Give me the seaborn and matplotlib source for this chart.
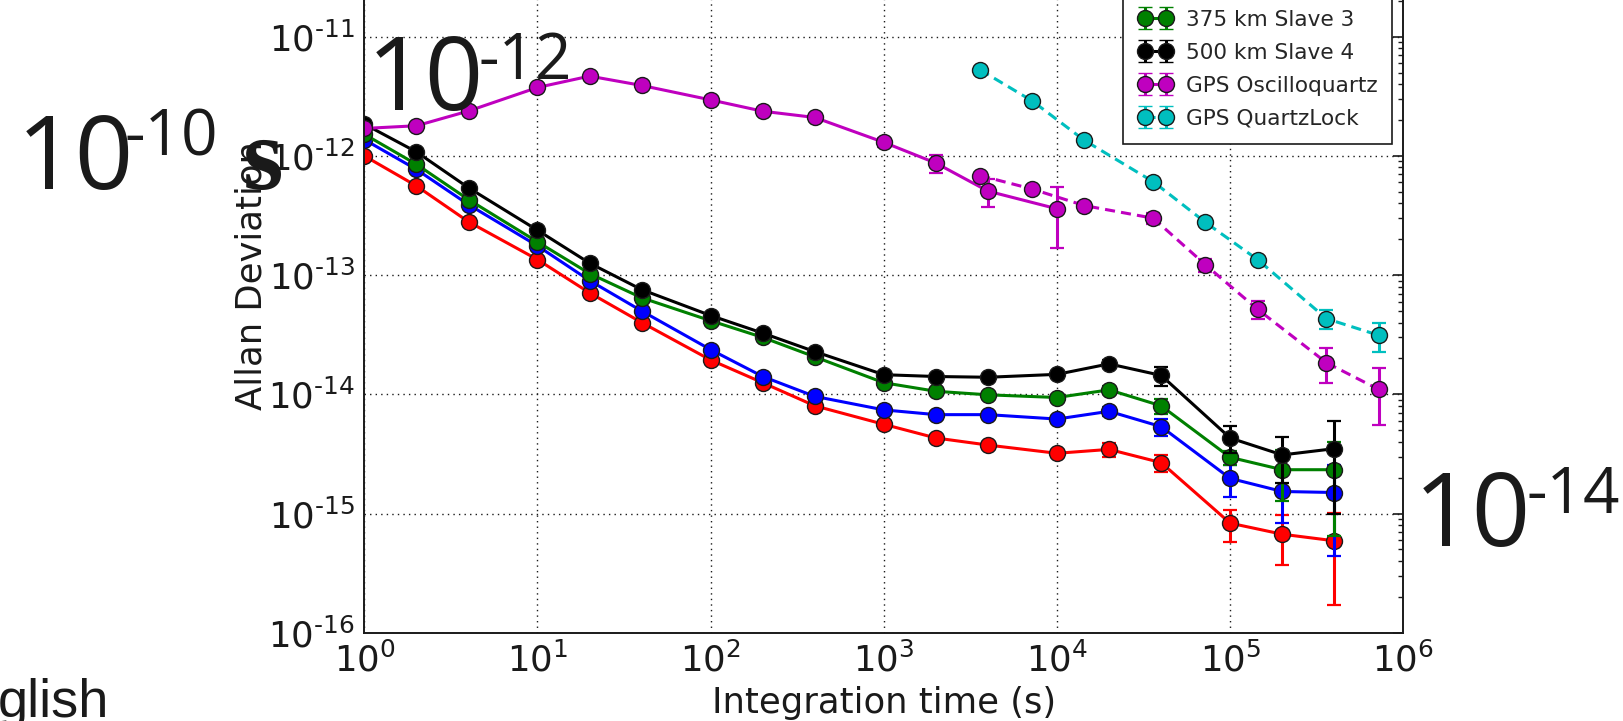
import numpy as np
import matplotlib
matplotlib.use("Agg")
import matplotlib.pyplot as plt
from matplotlib.ticker import FuncFormatter
import seaborn as sns

# averaging times (s)
tau_slave = [1, 2, 4, 10, 20, 40, 100, 200, 400, 1000, 2000, 4000,
             1e4, 2e4, 4e4, 1e5, 2e5, 4e5]
tau_osc = [1, 2, 4, 10, 20, 40, 100, 200, 400, 1000, 2000, 4000, 1e4]
tau_gps = [3600, 7200, 14400, 36000, 72000, 144000, 360000, 720000]

# Allan deviations
adev_s1 = [1.0e-12, 5.6e-13, 2.8e-13, 1.35e-13, 7.1e-14, 4.0e-14, 1.94e-14,
           1.25e-14, 8.0e-15, 5.6e-15, 4.3e-15, 3.75e-15, 3.2e-15, 3.45e-15,
           2.67e-15, 8.3e-16, 6.7e-16, 5.9e-16]
adev_s2 = [1.37e-12, 7.7e-13, 3.9e-13, 1.76e-13, 9.0e-14, 5.0e-14, 2.37e-14,
           1.41e-14, 9.6e-15, 7.4e-15, 6.75e-15, 6.75e-15, 6.2e-15, 7.2e-15,
           5.35e-15, 1.97e-15, 1.53e-15, 1.5e-15]
adev_s3 = [1.52e-12, 8.5e-13, 4.3e-13, 1.9e-13, 1.03e-13, 6.45e-14, 4.14e-14,
           3.0e-14, 2.06e-14, 1.25e-14, 1.06e-14, 9.9e-15, 9.4e-15, 1.09e-14,
           8.0e-15, 2.96e-15, 2.33e-15, 2.33e-15]
adev_s4 = [1.85e-12, 1.08e-12, 5.4e-13, 2.38e-13, 1.26e-13, 7.55e-14,
           4.58e-14, 3.26e-14, 2.28e-14, 1.46e-14, 1.41e-14, 1.39e-14,
           1.47e-14, 1.8e-14, 1.44e-14, 4.3e-15, 3.1e-15, 3.5e-15]
adev_osc = [1.7e-12, 1.79e-12, 2.38e-12, 3.75e-12, 4.67e-12, 3.9e-12,
            2.95e-12, 2.37e-12, 2.1e-12, 1.3e-12, 8.7e-13, 5.06e-13, 3.6e-13]
adev_osc_gps = [6.84e-13, 5.27e-13, 3.83e-13, 3.0e-13, 1.22e-13, 5.17e-14,
                1.84e-14, 1.1e-14]
adev_ql = [5.27e-12, 2.89e-12, 1.35e-12, 6.07e-13, 2.77e-13, 1.35e-13,
           4.31e-14, 3.13e-14]

# error bars
err_s1 = [1e-14, 5e-15, 2e-15, 1e-15, 5e-16, 3e-16, 2e-16, 1.5e-16, 1e-16,
          1e-16, 1e-16, 1e-16, 1.5e-16, 4.5e-16, 4.5e-16, 2.5e-16, 3.0e-16,
          4.2e-16]
err_s2 = [1e-14, 5e-15, 2e-15, 1e-15, 5e-16, 3e-16, 2e-16, 2e-16, 2e-16,
          2e-16, 2e-16, 2e-16, 3e-16, 6e-16, 9e-16, 6e-16, 7e-16, 1.06e-15]
err_s3 = [1e-14, 5e-15, 2e-15, 1e-15, 5e-16, 4e-16, 3e-16, 3e-16, 3e-16,
          3e-16, 3e-16, 3e-16, 4e-16, 8e-16, 1.2e-15, 4e-16, 1.05e-15,
          1.68e-15]
err_s4 = [1e-14, 5e-15, 2e-15, 1e-15, 5e-16, 4e-16, 3e-16, 3e-16, 3e-16,
          3e-16, 3e-16, 3e-16, 4e-16, 1.5e-15, 2.7e-15, 1.1e-15, 1.3e-15,
          2.5e-15]
err_osc = [3e-14, 3e-14, 4e-14, 6e-14, 8e-14, 7e-14, 6e-14, 6e-14, 7e-14,
           1.2e-13, 1.5e-13, 1.3e-13, 1.9e-13]
err_osc_gps = [4e-14, 3e-14, 3e-14, 3e-14, 1.5e-14, 9e-15, 6e-15, 5.5e-15]
err_ql = [2e-13, 1e-13, 5e-14, 2e-14, 1.5e-14, 1e-14, 8e-15, 8.5e-15]

labels = ["125 km Slave 1", "250 km Slave 2", "375 km Slave 3",
          "500 km Slave 4", "GPS Oscilloquartz", "GPS QuartzLock"]

W, H = 1624, 721
RED, BLUE, GREEN = "#ff0000", "#0000ff", "#008000"
BLACK, MAGENTA, CYAN = "#000000", "#bf00bf", "#00bfbf"

sns.set_theme(style="white")
plt.rcParams["font.family"] = ["DejaVu Sans"]
plt.rcParams["mathtext.fontset"] = "dejavusans"

fig = plt.figure(figsize=(W / 100, H / 100), dpi=100)
ax = fig.add_axes([364.3 / W, (H - 632.7) / H, 1039.0 / W, 715.2 / H])
ax.set_xscale("log")
ax.set_yscale("log")

series = [
    (tau_slave, adev_s1, err_s1, RED, "-", labels[0]),
    (tau_slave, adev_s2, err_s2, BLUE, "-", labels[1]),
    (tau_slave, adev_s3, err_s3, GREEN, "-", labels[2]),
    (tau_slave, adev_s4, err_s4, BLACK, "-", labels[3]),
    (tau_osc, adev_osc, err_osc, MAGENTA, "-", labels[4]),
    (tau_gps, adev_ql, err_ql, CYAN, "--", labels[5]),
    (tau_gps, adev_osc_gps, err_osc_gps, MAGENTA, "--", None),
]

dash = (0, (3.3, 2.0))
handles = []
for tau, adev, err, col, ls, lab in series:
    style = dash if ls == "--" else "-"
    ax.errorbar(tau, adev, yerr=err, fmt="none", ecolor=col,
                elinewidth=2.2, capsize=5, capthick=1.6)
    sns.lineplot(x=tau, y=adev, color=col, linestyle=style, linewidth=2.2,
                 marker="o", markersize=11.5, markeredgecolor="k",
                 markeredgewidth=1.0, ax=ax, legend=False)
    if lab is not None:
        h = ax.errorbar([np.nan], [np.nan], yerr=[np.nan], fmt="o",
                        linestyle=style, color=col, linewidth=2.2,
                        markersize=11.5, markeredgecolor="k",
                        markeredgewidth=1.0, ecolor=col, elinewidth=2.2,
                        capsize=5, capthick=1.6, label=lab)
        handles.append(h)


def decade(v, pos):
    e = int(round(np.log10(v)))
    if e < 0:
        # short hyphen in the exponent, as in the original labels
        return "$\\mathdefault{10^{\u2010%d}}$" % (-e)
    return "$\\mathdefault{10^{%d}}$" % e


ax.set_xlim(1, 1e6)
ax.set_ylim(1e-16, 1e-10)
ax.set_yticks([1e-16, 1e-15, 1e-14, 1e-13, 1e-12, 1e-11])
ax.xaxis.set_major_formatter(FuncFormatter(decade))
ax.yaxis.set_major_formatter(FuncFormatter(decade))
ax.grid(True, which="major", color="k", linestyle=(0, (1, 3)),
        linewidth=1.0)
for s in ax.spines.values():
    s.set_color("k")
    s.set_linewidth(1.4)
ax.tick_params(which="both", direction="in", top=True, right=True,
               colors="k", labelsize=25.5)
ax.tick_params(which="major", length=7, width=1.2, pad=7)
ax.tick_params(which="minor", length=3.5, width=1.0)

ax.set_xlabel("Integration time (s)", fontsize=25.5, color="k")
ax.set_ylabel("Allan Deviation", fontsize=25.5, color="k")
ax.yaxis.set_label_coords(-0.0922, 0.5)
ax.xaxis.labelpad = 5

leg = ax.legend(handles=handles, labels=labels, loc="upper right",
                fontsize=15.6, numpoints=2, handlelength=1.6,
                handletextpad=0.6, labelspacing=0.6, borderpad=0.7,
                frameon=True, fancybox=False, framealpha=1.0)
leg.get_frame().set_edgecolor("k")
leg.get_frame().set_linewidth(1.2)


def px(x, y):
    return x / W, 1 - y / H


big = dict(family=["Open Sans", "DejaVu Sans"], color="k", va="baseline",
           ha="right")
# overlaid annotation text: (right of "10", baseline, right of exponent,
# exponent baseline, exponent)
for (x0, y0, xs, ys, sup) in [(134, 188.7, 218, 155, "-10"),
                              (484, 110, 572, 79, "-12"),
                              (1531, 546, 1620, 513.3, "-14")]:
    fig.text(*px(x0, y0), "10", fontsize=74, **big)
    fig.text(*px(xs, ys), sup, fontsize=46, **big)

fig.text(*px(243, 188.7), "s", fontsize=75, fontweight="bold",
         family=["Liberation Serif", "DejaVu Serif"], color="k",
         va="baseline", ha="left")
fig.text(*px(-2, 717), "glish", fontsize=39,
         family=["Liberation Sans", "DejaVu Sans"], color="k",
         va="baseline", ha="left")

fig.savefig("out.png", dpi=100, facecolor="white")
